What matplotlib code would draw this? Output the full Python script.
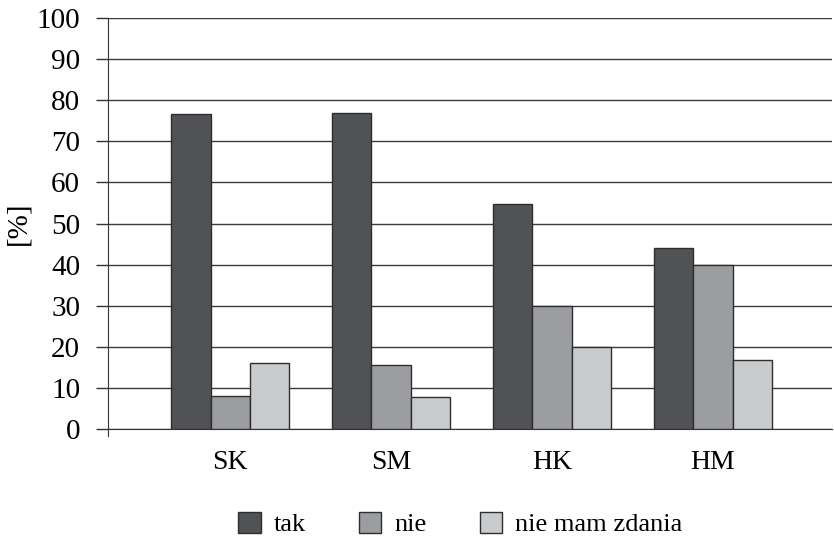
import matplotlib
matplotlib.use("Agg")
import matplotlib.pyplot as plt
import numpy as np

categories = ["SK", "SM", "HK", "HM"]
series_names = ["tak", "nie", "nie mam zdania"]
tak = [76.6, 76.8, 54.7, 44.0]
nie = [8.0, 15.6, 30.0, 40.0]
nie_mam_zdania = [16.0, 7.9, 20.0, 16.8]
yticks = [0, 10, 20, 30, 40, 50, 60, 70, 80, 90, 100]

colors = ["#515254", "#9c9da1", "#cacbcd"]

plt.rcParams['font.family'] = ['Liberation Serif', 'DejaVu Serif']

fig = plt.figure(figsize=(8.34, 5.39), dpi=100)
ax = fig.add_axes([0.1295, 0.204, 0.868, 0.7626])

x = np.arange(len(categories))
w = 0.245
for i, (vals, name) in enumerate(zip([tak, nie, nie_mam_zdania], series_names)):
    ax.bar(x + (i - 1) * w, vals, width=w, color=colors[i], edgecolor="#2e2e2e",
           linewidth=1.0, label=name, zorder=3)

ax.set_ylim(0, 100)
ax.set_xlim(-0.76, 3.74)
ax.set_yticks(yticks)
ax.set_yticklabels([str(v) for v in yticks], fontsize=21)
ax.set_xticks(x)
ax.set_xticklabels(categories, fontsize=20)
ax.tick_params(axis='x', length=0, pad=15)
ax.tick_params(axis='y', length=9, width=1.0, color="#333333", pad=11)
ax.yaxis.grid(True, color="#3a3a3a", linewidth=1.0, zorder=0)
ax.set_axisbelow(True)
for s in ["top", "right"]:
    ax.spines[s].set_visible(False)
ax.spines["left"].set_color("#333333")
ax.spines["bottom"].set_color("#333333")
ax.spines["left"].set_bounds(-1.8, 100)
ax.spines["left"].set_clip_on(False)
ax.set_ylabel("[%]", fontsize=21, labelpad=4)

fig.legend(loc="center", bbox_to_anchor=(0.552, 0.028), ncol=3, frameon=False,
           fontsize=19, handlelength=0.85, handleheight=0.85, handletextpad=0.5,
           columnspacing=2.0)

fig.savefig("out.png", dpi=100)
